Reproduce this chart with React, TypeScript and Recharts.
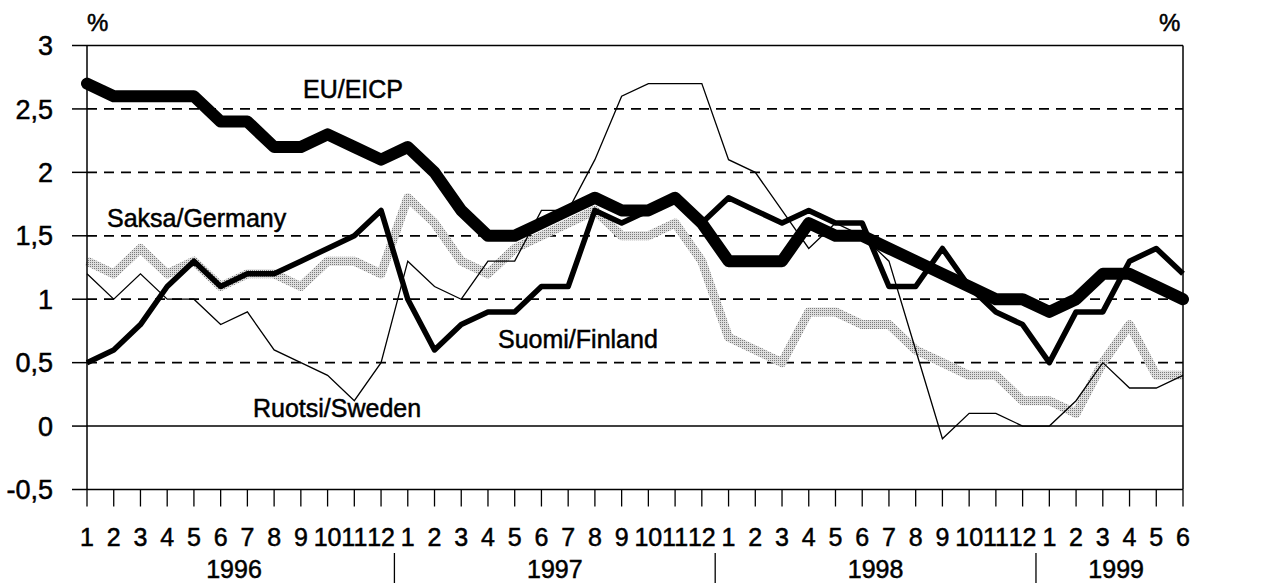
import { LineChart, Line, XAxis, YAxis, ReferenceLine } from 'recharts';

// month labels 1996-1 ... 1999-6
const monthLabels = [
  '1', '2', '3', '4', '5', '6', '7', '8', '9', '10', '11', '12',
  '1', '2', '3', '4', '5', '6', '7', '8', '9', '10', '11', '12',
  '1', '2', '3', '4', '5', '6', '7', '8', '9', '10', '11', '12',
  '1', '2', '3', '4', '5', '6',
];
const years = ['1996', '1997', '1998', '1999'];
const monthsPerYear = [12, 12, 12, 6];

const euEicp = [
  2.7, 2.6, 2.6, 2.6, 2.6, 2.4, 2.4, 2.2, 2.2, 2.3, 2.2, 2.1,
  2.2, 2.0, 1.7, 1.5, 1.5, 1.6, 1.7, 1.8, 1.7, 1.7, 1.8, 1.6,
  1.3, 1.3, 1.3, 1.6, 1.5, 1.5, 1.4, 1.3, 1.2, 1.1, 1.0, 1.0,
  0.9, 1.0, 1.2, 1.2, 1.1, 1.0,
];
const finland = [
  0.5, 0.6, 0.8, 1.1, 1.3, 1.1, 1.2, 1.2, 1.3, 1.4, 1.5, 1.7,
  1.0, 0.6, 0.8, 0.9, 0.9, 1.1, 1.1, 1.7, 1.6, 1.7, 1.8, 1.6,
  1.8, 1.7, 1.6, 1.7, 1.6, 1.6, 1.1, 1.1, 1.4, 1.1, 0.9, 0.8,
  0.5, 0.9, 0.9, 1.3, 1.4, 1.2,
];
const germany = [
  1.3, 1.2, 1.4, 1.2, 1.3, 1.1, 1.2, 1.2, 1.1, 1.3, 1.3, 1.2,
  1.8, 1.6, 1.3, 1.2, 1.4, 1.5, 1.6, 1.7, 1.5, 1.5, 1.6, 1.3,
  0.7, 0.6, 0.5, 0.9, 0.9, 0.8, 0.8, 0.6, 0.5, 0.4, 0.4, 0.2,
  0.2, 0.1, 0.5, 0.8, 0.4, 0.4,
];
const sweden = [
  1.2, 1.0, 1.2, 1.0, 1.0, 0.8, 0.9, 0.6, 0.5, 0.4, 0.2, 0.5,
  1.3, 1.1, 1.0, 1.3, 1.3, 1.7, 1.7, 2.1, 2.6, 2.7, 2.7, 2.7,
  2.1, 2.0, 1.7, 1.4, 1.6, 1.5, 1.3, 0.6, -0.1, 0.1, 0.1, 0.0,
  0.0, 0.2, 0.5, 0.3, 0.3, 0.4,
];

const yTicks = [-0.5, 0, 0.5, 1, 1.5, 2, 2.5, 3];
const dashedGrid = [0.5, 1, 1.5, 2, 2.5];
const solidGrid = [0, 3];

const data = monthLabels.map((m, i) => ({
  i,
  m,
  eu: euEicp[i],
  fi: finland[i],
  de: germany[i],
  se: sweden[i],
}));
const monthIdx = data.map((d) => d.i);

// year centres and separators between years
const yearStarts = monthsPerYear.map((_, k) => monthsPerYear.slice(0, k).reduce((a, b) => a + b, 0));
const yearCentres = yearStarts.map((s, k) => s + (monthsPerYear[k] - 1) / 2);
const separators = yearStarts.slice(1).map((s) => s - 0.5);

const font = '"Liberation Sans", Arial, sans-serif';
const fmt = (v: number) => String(v).replace('.', ',');
const tickStyle = { fill: '#000', stroke: '#000', strokeWidth: 0.5 };

const YearTick = (props: any) => {
  const { x, y, payload } = props;
  const v = payload.value;
  if (separators.includes(v)) {
    return <line x1={x} x2={x} y1={y + 13.5} y2={y + 44} stroke="#000" strokeWidth={1.3} />;
  }
  const k = yearCentres.indexOf(v);
  return (
    <text
      x={x}
      y={y + 38}
      textAnchor="middle"
      fontSize={25}
      fontFamily={font}
      fill="#000"
      stroke="#000"
      strokeWidth={0.5}
    >
      {years[k]}
    </text>
  );
};

const label = (text: string, left: number, top: number, size = 25) => (
  <div
    style={{
      position: 'absolute',
      left,
      top,
      fontSize: size,
      lineHeight: 1,
      fontFamily: font,
      whiteSpace: 'nowrap',
      color: '#000',
      WebkitTextStroke: '0.5px #000',
    }}
  >
    {text}
  </div>
);

export default function App() {
  return (
    <div style={{ position: 'relative', width: 1265, height: 583, background: '#fff' }}>
      <style>{`body{margin:0}`}</style>
      <svg width={0} height={0} style={{ position: 'absolute' }}>
        <defs>
          <pattern id="stipple" patternUnits="userSpaceOnUse" width={2} height={2}>
            <rect width={2} height={2} fill="#dedede" />
            <rect width={1} height={1} fill="#7c7c7c" />
          </pattern>
        </defs>
      </svg>
      <LineChart
        width={1265}
        height={583}
        data={data}
        margin={{ top: 45.5, right: 0, bottom: 0, left: 0 }}
        style={{ fontFamily: font }}
      >
        <XAxis
          xAxisId="m"
          dataKey="i"
          type="number"
          domain={[0, 41]}
          ticks={monthIdx}
          interval={0}
          tickFormatter={(v: number) => monthLabels[v]}
          height={50}
          tickSize={17}
          tickMargin={22}
          tick={{ fontSize: 25, ...tickStyle }}
          axisLine={{ stroke: '#000', strokeWidth: 1.5 }}
          tickLine={{ stroke: '#000', strokeWidth: 1.3 }}
        />
        <XAxis
          xAxisId="year"
          dataKey="i"
          type="number"
          domain={[0, 41]}
          ticks={[...yearCentres, ...separators]}
          interval={0}
          height={43.5}
          tickSize={0}
          tickMargin={0}
          axisLine={false}
          tickLine={false}
          tick={<YearTick />}
        />
        <YAxis
          yAxisId="left"
          orientation="left"
          domain={[-0.5, 3]}
          ticks={yTicks}
          interval={0}
          width={87}
          tickSize={15}
          tickMargin={19}
          tickFormatter={fmt}
          tick={{ fontSize: 27, ...tickStyle }}
          axisLine={{ stroke: '#000', strokeWidth: 1.5 }}
          tickLine={{ stroke: '#000', strokeWidth: 1.5 }}
        />
        <YAxis
          yAxisId="right"
          orientation="right"
          domain={[-0.5, 3]}
          ticks={yTicks}
          interval={0}
          width={82}
          tickSize={17}
          tickMargin={17}
          tickFormatter={fmt}
          tick={{ fontSize: 27, ...tickStyle }}
          axisLine={{ stroke: '#000', strokeWidth: 1.5 }}
          tickLine={{ stroke: '#000', strokeWidth: 1.5 }}
        />
        {dashedGrid.map((v) => (
          <ReferenceLine
            key={'d' + v}
            xAxisId="m"
            yAxisId="left"
            y={v}
            stroke="#000"
            strokeWidth={1.8}
            strokeDasharray="10 7"
          />
        ))}
        {solidGrid.map((v) => (
          <ReferenceLine key={'s' + v} xAxisId="m" yAxisId="left" y={v} stroke="#000" strokeWidth={1.5} />
        ))}
        <Line
          xAxisId="m"
          yAxisId="left"
          dataKey="de"
          stroke="url(#stipple)"
          strokeWidth={9}
          strokeLinejoin="round"
          dot={false}
          activeDot={false}
          isAnimationActive={false}
        />
        <Line
          xAxisId="m"
          yAxisId="left"
          dataKey="se"
          stroke="#000"
          strokeWidth={1.3}
          dot={false}
          activeDot={false}
          isAnimationActive={false}
        />
        <Line
          xAxisId="m"
          yAxisId="left"
          dataKey="fi"
          stroke="#000"
          strokeWidth={5.5}
          strokeLinejoin="round"
          dot={false}
          activeDot={false}
          isAnimationActive={false}
        />
        <Line
          xAxisId="m"
          yAxisId="left"
          dataKey="eu"
          stroke="#000"
          strokeWidth={12}
          strokeLinejoin="round"
          strokeLinecap="round"
          dot={false}
          activeDot={false}
          isAnimationActive={false}
        />
      </LineChart>
      {label('%', 87, 11, 24)}
      {label('%', 1159, 11, 24)}
      {label('EU/EICP', 303, 77)}
      {label('Saksa/Germany', 107, 206)}
      {label('Suomi/Finland', 498, 327)}
      {label('Ruotsi/Sweden', 253, 396)}
    </div>
  );
}
